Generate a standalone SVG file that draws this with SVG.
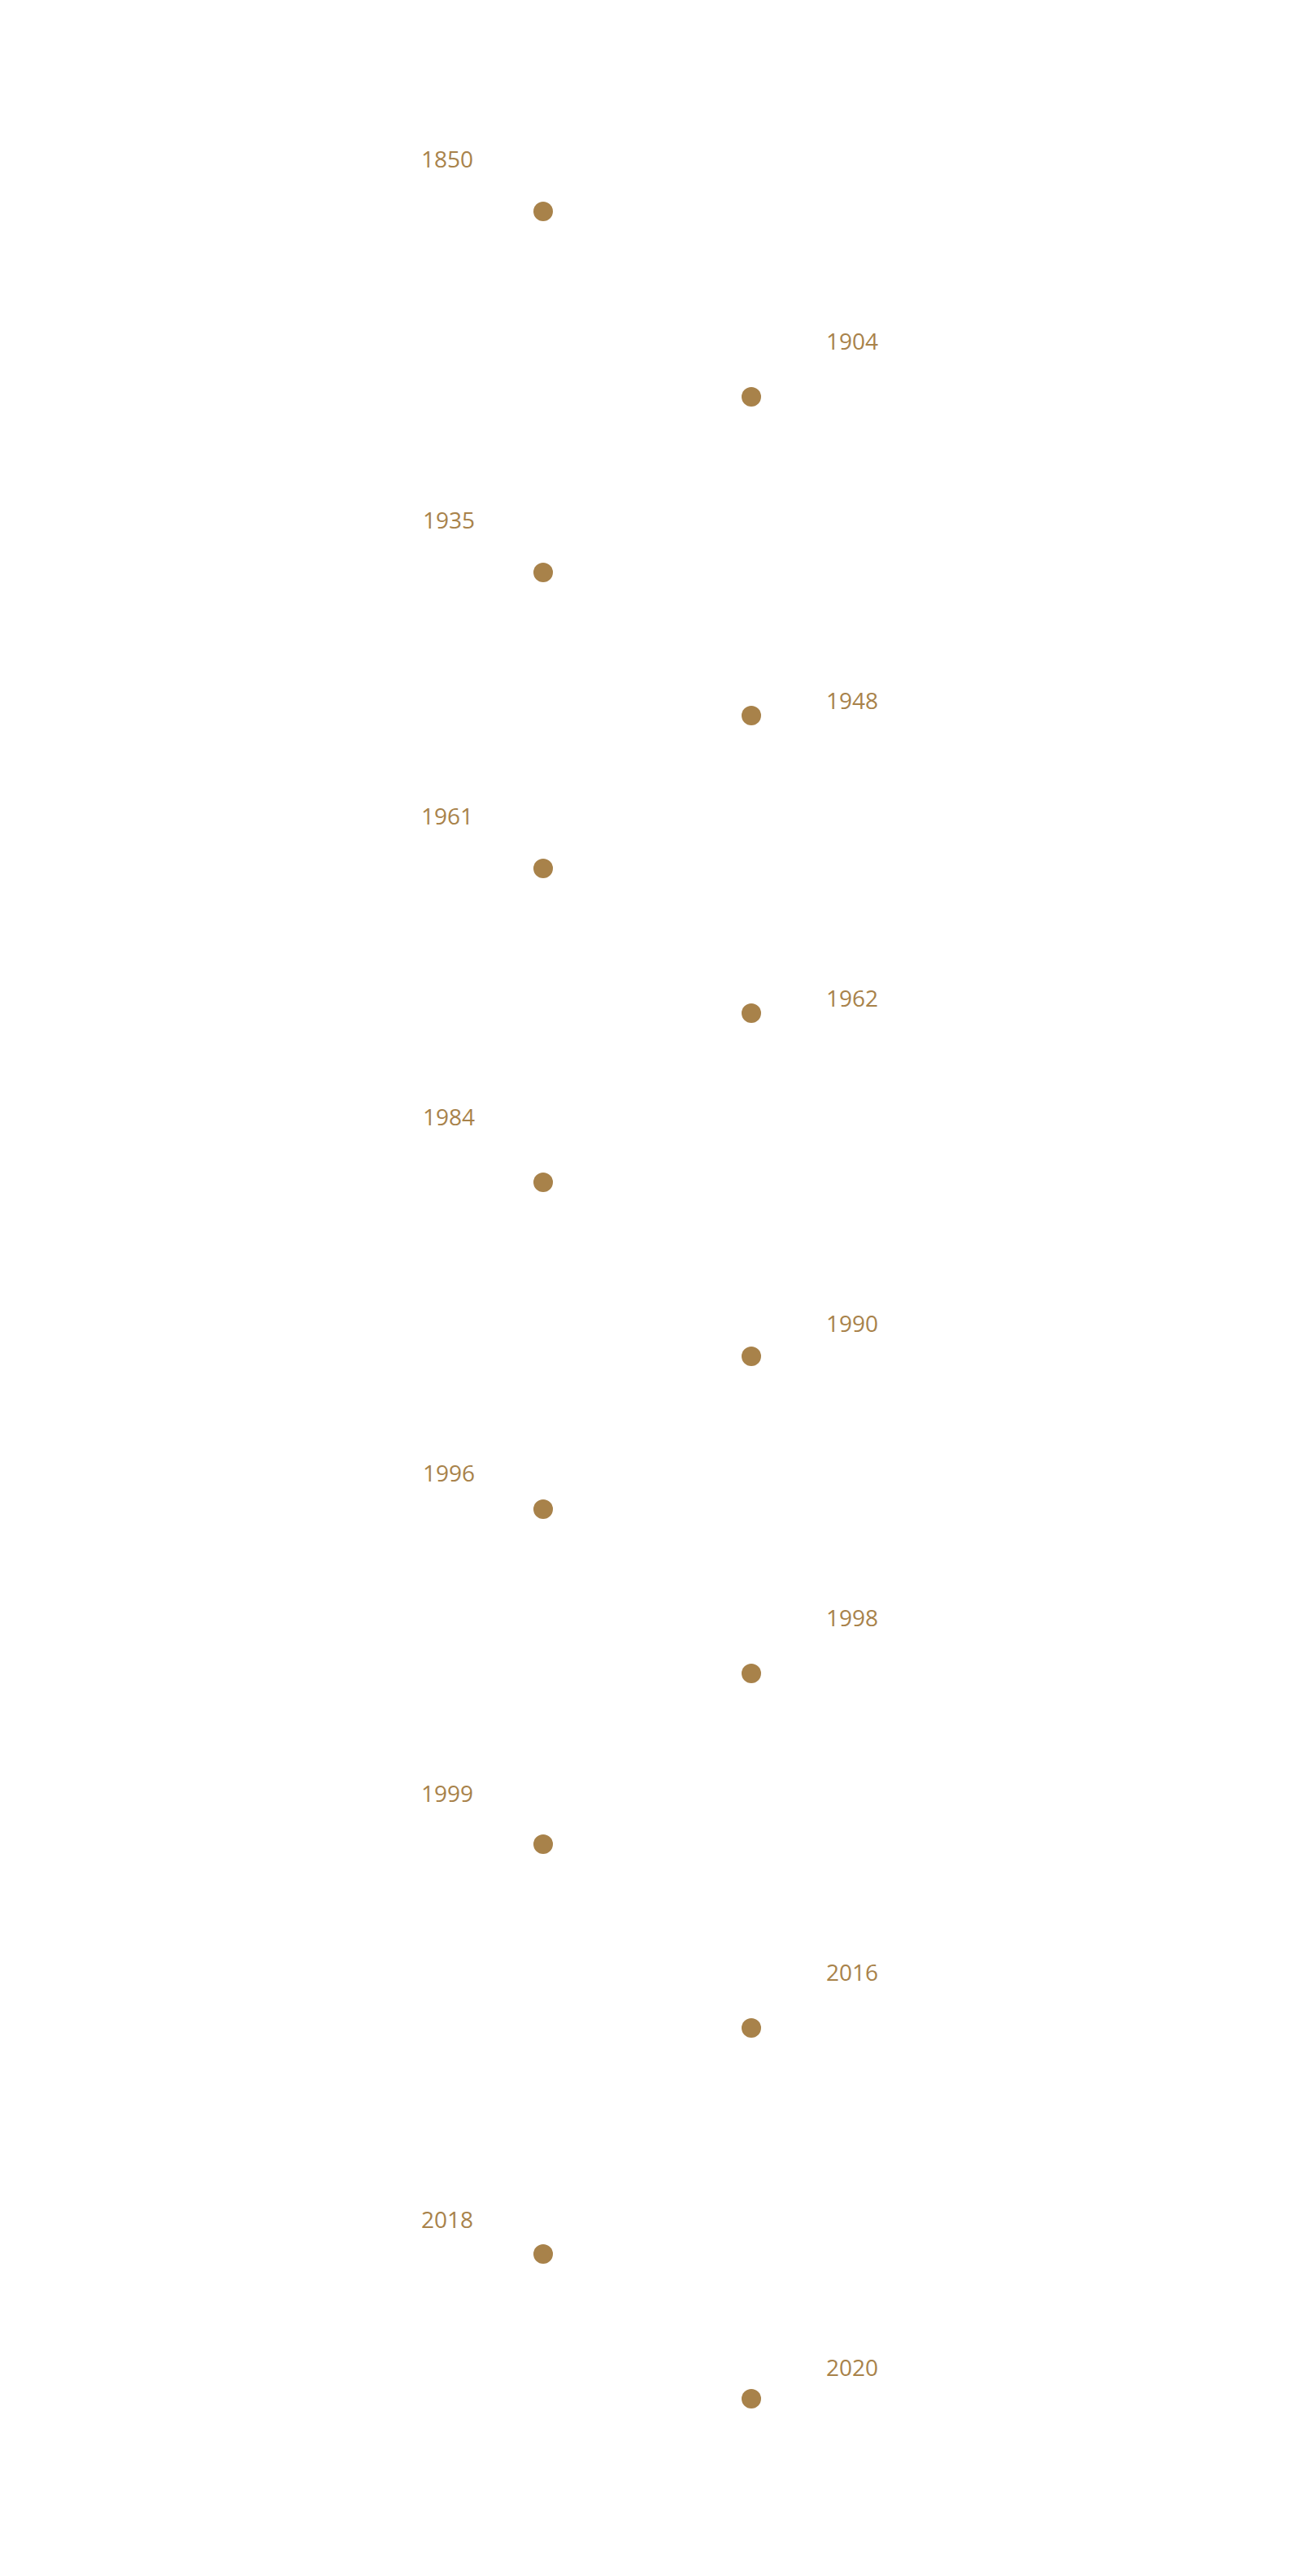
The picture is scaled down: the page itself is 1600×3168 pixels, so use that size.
<svg xmlns="http://www.w3.org/2000/svg" width="1600" height="3168" viewBox="0 0 1600 3168">
<style>
text{font-family:"Open Sans","Liberation Sans",sans-serif;font-size:28px;fill:#a8824a}
circle{fill:#a8824a}
</style>
<rect width="1600" height="3168" fill="#fff"/>
<g id="connectors"/>
<g id="n1850"><text x="518" y="206">1850</text><circle cx="668" cy="260" r="12"/></g>
<g id="n1904"><text x="1016" y="430">1904</text><circle cx="924" cy="488" r="12"/></g>
<g id="n1935"><text x="520" y="650">1935</text><circle cx="668" cy="704" r="12"/></g>
<g id="n1948"><text x="1016" y="872">1948</text><circle cx="924" cy="880" r="12"/></g>
<g id="n1961"><text x="518" y="1014">1961</text><circle cx="668" cy="1068" r="12"/></g>
<g id="n1962"><text x="1016" y="1238">1962</text><circle cx="924" cy="1246" r="12"/></g>
<g id="n1984"><text x="520" y="1384">1984</text><circle cx="668" cy="1454" r="12"/></g>
<g id="n1990"><text x="1016" y="1638">1990</text><circle cx="924" cy="1668" r="12"/></g>
<g id="n1996"><text x="520" y="1822">1996</text><circle cx="668" cy="1856" r="12"/></g>
<g id="n1998"><text x="1016" y="2000">1998</text><circle cx="924" cy="2058" r="12"/></g>
<g id="n1999"><text x="518" y="2216">1999</text><circle cx="668" cy="2268" r="12"/></g>
<g id="n2016"><text x="1016" y="2436">2016</text><circle cx="924" cy="2494" r="12"/></g>
<g id="n2018"><text x="518" y="2740">2018</text><circle cx="668" cy="2772" r="12"/></g>
<g id="n2020"><text x="1016" y="2922">2020</text><circle cx="924" cy="2950" r="12"/></g>
</svg>
